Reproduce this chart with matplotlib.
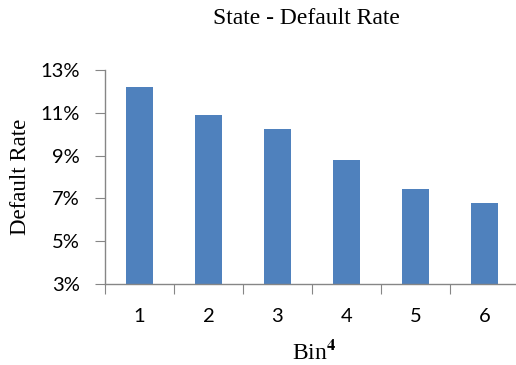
import matplotlib
matplotlib.use('Agg')
import matplotlib.pyplot as plt
import numpy as np

# values
bins = ['1', '2', '3', '4', '5', '6']
default_rate = [12.2, 10.9, 10.25, 8.8, 7.45, 6.8]
y_ticks = [3, 5, 7, 9, 11, 13]
y_tick_labels = ['3%', '5%', '7%', '9%', '11%', '13%']

BAR_COLOR = '#4F81BD'
AXIS_COLOR = '#868686'
SERIF = ['Liberation Serif', 'DejaVu Serif']
SANS = ['Lato', 'DejaVu Sans']

plt.rcParams['mathtext.fontset'] = 'stix'

fig = plt.figure(figsize=(5.16, 3.65), dpi=100)
# axes runs slightly past the right edge, like the Excel original
ax = fig.add_axes([105 / 516, 1 - 284 / 365, 414 / 516, 214 / 365])

x = np.arange(len(bins))
ax.bar(x, default_rate, width=0.39, color=BAR_COLOR, zorder=2)

ax.set_xlim(-0.5, len(bins) - 0.5)
ax.set_ylim(3, 13)

ax.set_yticks(y_ticks)
ax.set_yticklabels(y_tick_labels, family=SANS, fontsize=14.5)

# tick marks between categories, labels in the middle
ax.set_xticks(np.arange(-0.5, len(bins), 1.0))
ax.set_xticklabels([])
ax.set_xticks(x, minor=True)
ax.set_xticklabels(bins, minor=True, family=SANS, fontsize=14.5)
ax.tick_params(axis='x', which='major', length=7, color=AXIS_COLOR, direction='out')
ax.tick_params(axis='x', which='minor', length=0, pad=17)
ax.tick_params(axis='y', length=7, color=AXIS_COLOR, direction='out', pad=11)

for side in ['top', 'right']:
    ax.spines[side].set_visible(False)
for side in ['left', 'bottom']:
    ax.spines[side].set_color(AXIS_COLOR)
    ax.spines[side].set_linewidth(1.0)

fig.text(306 / 516, 1 - 18 / 365, 'State - Default Rate', family=SERIF,
         fontsize=17, ha='center', va='center')
fig.text(21 / 516, 1 - 177 / 365, 'Default Rate', family=SERIF,
         fontsize=16.5, rotation=90, ha='center', va='center')
fig.text(314 / 516, 1 - 352 / 365, r'Bin$^{\mathbf{4}}$', family=SERIF,
         fontsize=17, ha='center', va='center')

fig.savefig('out.png', dpi=100)
